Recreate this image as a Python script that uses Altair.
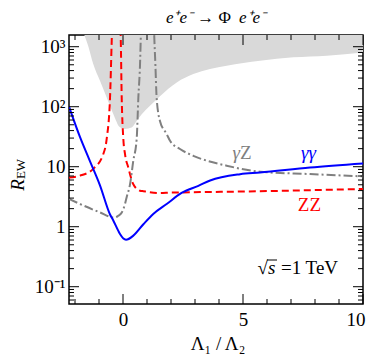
import altair as alt
import pandas as pd

FONT = "Liberation Serif"

# ---- data ----
band_x = [-1.62, -1.44, -1.24, -0.96, -0.68, -0.40, -0.125, 0.08, 0.36, 0.57, 0.78, 1.125, 1.54, 2.24, 2.93, 4.32, 5.71, 7.1, 8.49, 10.0]
band_lo = [1600, 1000, 515, 271, 143, 75, 45.3, 42.5, 45, 58, 75, 104, 150, 254, 350, 482, 584, 665, 708, 804]

gg_x = [-2.25, -1.79, -1.40, -0.96, -0.54, -0.40, -0.20, -0.125, 0.125, 0.43, 0.85, 1.26, 1.82, 2.44, 3.14, 3.63, 4.88, 5.71, 7.79, 10.0]
gg_v = [100, 31, 13, 4.9, 1.6, 1.26, 0.86, 0.755, 0.607, 0.71, 1.1, 1.63, 2.39, 3.65, 4.8, 5.9, 7.5, 8.0, 9.7, 11.35]

zz_left_x = [-2.25, -1.79, -1.24, -0.82, -0.68, -0.54, -0.47, -0.44]
zz_left_v = [6.6, 7.1, 9.2, 16.3, 29, 143, 1260, 3000]
zz_right_x = [-0.12, -0.096, -0.054, 0.014, 0.083, 0.22, 0.43, 0.71, 0.85, 1.54, 1.96, 2.44, 5.7, 10.0]
zz_right_v = [3000, 1500, 143, 29, 16.3, 9.7, 5.1, 3.98, 3.9, 3.64, 3.7, 3.73, 3.9, 4.25]

gz_left_x = [-2.25, -0.96, -0.40, -0.33, -0.20, -0.05, 0.083, 0.15, 0.29, 0.43, 0.57, 0.64, 0.71, 0.76]
gz_left_v = [2.9, 1.73, 1.43, 1.43, 1.52, 1.73, 2.39, 3.08, 5.0, 12.6, 29, 143, 515, 3000]
gz_right_x = [1.28, 1.30, 1.35, 1.40, 1.54, 1.82, 1.96, 2.375, 2.93, 4.32, 5.71, 7.79, 10.0]
gz_right_v = [3000, 1600, 500, 143, 58, 35, 27, 19.7, 15.2, 10.4, 8.25, 7.55, 6.9]

x_major = [0, 5, 10]
x_minor = [-2, -1, 1, 2, 3, 4, 6, 7, 8, 9]
y_major = [0.1, 1, 10, 100, 1000]
y_major_labels = ["10⁻¹", "1", "10", "10²", "10³"]
y_minor = [0.06, 0.07, 0.08, 0.09, 0.2, 0.3, 0.4, 0.5, 0.6, 0.7, 0.8, 0.9,
           2, 3, 4, 5, 6, 7, 8, 9, 20, 30, 40, 50, 60, 70, 80, 90,
           200, 300, 400, 500, 600, 700, 800, 900]

W, H = 294, 269
X_DOMAIN = [-2.25, 10]
Y_DOMAIN = [0.0515, 1567]

xs = alt.Scale(domain=X_DOMAIN, nice=False, zero=False)
ys = alt.Scale(type="log", domain=Y_DOMAIN, nice=False)

label_expr = " : ".join(
    f"datum.value == {v} ? '{l}'" for v, l in zip(y_major, y_major_labels)) + " : ''"
X_AXIS = alt.Axis(values=x_major, ticks=False, domain=False, grid=False, title=None,
                  labelFont=FONT, labelFontSize=19, labelColor="black", labelPadding=6,
                  labelFlush=1, labelFlushOffset=2, labelOverlap=False)
Y_AXIS = alt.Axis(values=y_major, ticks=False, domain=False, grid=False, title=None,
                  labelFont=FONT, labelFontSize=19, labelColor="black", labelPadding=4,
                  labelExpr=label_expr, labelOverlap=False, labelFlush=False)

def X():
    return alt.X("x:Q", scale=xs, axis=X_AXIS)

def Y():
    return alt.Y("v:Q", scale=ys, axis=Y_AXIS)

band_df = pd.DataFrame({"x": band_x, "v": band_lo, "top": [Y_DOMAIN[1]] * len(band_x)})
band = alt.Chart(band_df).mark_area(color="#d9d9d9", interpolate="monotone", clip=True).encode(
    x=X(), y=Y(), y2=alt.Y2("top:Q"))

def lines(xl, vl, branch):
    return pd.DataFrame({"x": xl, "v": vl, "b": [branch] * len(xl)})

gg_df = lines(gg_x, gg_v, "a")
zz_df = pd.concat([lines(zz_left_x, zz_left_v, "l"), lines(zz_right_x, zz_right_v, "r")])
gz_df = pd.concat([lines(gz_left_x, gz_left_v, "l"), lines(gz_right_x, gz_right_v, "r")])

zz = alt.Chart(zz_df).mark_line(color="#ff0000", strokeWidth=2, strokeDash=[7, 4], interpolate="monotone", clip=True).encode(
    x=X(), y=Y(), detail="b:N")
gz = alt.Chart(gz_df).mark_line(color="#808080", strokeWidth=2, strokeDash=[9, 3, 2, 3], interpolate="monotone", clip=True).encode(
    x=X(), y=Y(), detail="b:N")
gg = alt.Chart(gg_df).mark_line(color="#0000ff", strokeWidth=2, interpolate="monotone", clip=True).encode(
    x=X(), y=Y())

# inward ticks
def xticks(vals, length):
    d = pd.DataFrame({"x": vals})
    base = alt.Chart(d).mark_rule(color="black", strokeWidth=1)
    return (base.encode(x=X(), y=alt.value(H), y2=alt.value(H - length)) +
            base.encode(x=X(), y=alt.value(0), y2=alt.value(length)))

def yticks(vals, length):
    d = pd.DataFrame({"v": vals})
    base = alt.Chart(d).mark_rule(color="black", strokeWidth=1)
    return (base.encode(y=Y(), x=alt.value(0), x2=alt.value(length)) +
            base.encode(y=Y(), x=alt.value(W), x2=alt.value(W - length)))

# curve labels in data coordinates
lab_df = pd.DataFrame({
    "x": [4.875, 4.875, 7.73, 7.77],
    "v": [13.4, 13.4, 13.6, 1.8],
    "t": ["γ", "Z", "γγ", "ZZ"],
})
def lab(i, color, style, align):
    return alt.Chart(lab_df.iloc[[i]]).mark_text(
        font=FONT, fontSize=19, fontStyle=style, color=color, align=align, baseline="alphabetic"
    ).encode(x=X(), y=Y(), text="t:N")

labels = (lab(0, "#808080", "italic", "right") + lab(1, "#808080", "normal", "left") +
          lab(2, "#0000ff", "italic", "center") + lab(3, "#ff0000", "normal", "center"))

def txt(t, x, y, size=19, style="normal", align="center", angle=0, baseline="alphabetic"):
    return alt.Chart(pd.DataFrame({"t": [t]})).mark_text(
        font=FONT, fontSize=size, fontStyle=style, color="black", align=align,
        baseline=baseline, angle=angle
    ).encode(x=alt.value(x), y=alt.value(y), text="t:N")

annot = (
    txt("e⁺e⁻", 124, -12, 17, "italic", "right") +
    txt("→ Φ", 145, -12, 17, "normal", "center") +
    txt("e⁺e⁻", 170, -12, 17, "italic", "left") +
    txt("R", -45, 150, 19, "italic", "center", 270) +
    txt("EW", -44, 134, 13, "normal", "center", 270) +
    txt("Λ₁ / Λ₂", 149, 315, 19) +
    txt("√", 199, 239, 19, "normal", "right") +
    txt("s", 199, 239, 19, "italic", "left") +
    txt("=1 TeV", 212, 239, 19, "normal", "left")
)
overline = alt.Chart(pd.DataFrame({"a": [0]})).mark_rule(color="black", strokeWidth=1).encode(
    x=alt.value(198), x2=alt.value(208), y=alt.value(225))

chart = alt.layer(
    band, zz, gz, gg,
    xticks(x_major, 10), xticks(x_minor, 5),
    yticks(y_major, 10), yticks(y_minor, 5),
    labels, annot, overline,
).properties(
    width=W, height=H,
    autosize=alt.AutoSizeParams(type="none"),
    padding={"left": 61, "top": 27, "right": 3, "bottom": 53},
).configure_view(stroke="black", strokeWidth=1.5)

chart.save("out.html", embed_options={"renderer": "svg", "actions": False})
